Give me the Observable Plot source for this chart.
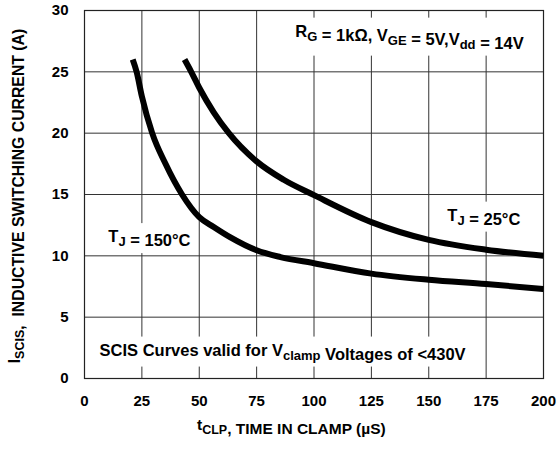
<!DOCTYPE html>
<html>
<head>
<meta charset="utf-8">
<script src="https://cdn.jsdelivr.net/npm/d3@7"></script>
<script src="https://cdn.jsdelivr.net/npm/@observablehq/plot@0.6"></script>
<style>
  html, body { margin: 0; padding: 0; background: #fff; }
  svg text { font-family: "Liberation Sans", Arial, sans-serif; }
</style>
</head>
<body>
<div id="chart"></div>
<script>
// ---- data ----
const t150 = [21, 22.7, 25, 29.5, 35.3, 42.5, 50, 56.3, 63.6, 75, 85.4, 100, 125, 150, 175, 200];
const i150 = [26, 25, 23, 20, 17.5, 15, 13.15, 12.35, 11.5, 10.45, 9.9, 9.4, 8.55, 8.05, 7.7, 7.3];
const t25 = [43.6, 46.5, 50, 56.3, 62.9, 75, 86.8, 100, 125, 150, 175, 200];
const i25 = [26, 25, 23.7, 21.7, 20, 17.7, 16.2, 14.95, 12.75, 11.3, 10.5, 10.0];
const xTicks = [0, 25, 50, 75, 100, 125, 150, 175, 200];
const yTicks = [0, 5, 10, 15, 20, 25, 30];
const annoText = ["R_{G} = 1kΩ, V_{GE} = 5V,V_{dd} = 14V", "T_{J} = 25°C", "T_{J} = 150°C", "SCIS Curves valid for V_{clamp} Voltages of <430V"];
const annoX = [141.6, 174, 28.3, 86.3];
const annoY = [28.3, 13.3, 11.55, 2.3];
const xTitle = "t_{CLP}, TIME IN CLAMP (µS)";
const yTitle = "I_{SCIS},  INDUCTIVE SWITCHING CURRENT (A)";

const s150 = t150.map((t, k) => ({t, i: i150[k]}));
const s25 = t25.map((t, k) => ({t, i: i25[k]}));
const annos = annoText.map((s, k) => ({s, x: annoX[k], y: annoY[k]}));

const W = 558, H = 454;
const chart = Plot.plot({
  width: W, height: H,
  marginLeft: 84, marginRight: 15, marginTop: 10, marginBottom: 76,
  style: {fontFamily: "'Liberation Sans', Arial, sans-serif", fontSize: "15px", fontWeight: "bold", color: "#000", background: "#fff"},
  x: {domain: [0, 200], ticks: xTicks, label: null},
  y: {domain: [0, 30], ticks: yTicks, label: null},
  marks: [
    Plot.gridX(xTicks, {stroke: "#333", strokeOpacity: 1, strokeWidth: 1}),
    Plot.gridY(yTicks, {stroke: "#333", strokeOpacity: 1, strokeWidth: 1}),
    Plot.frame({stroke: "#222", strokeWidth: 1.2}),
    Plot.axisX(xTicks, {tickSize: 0, tickPadding: 17, fontSize: 15, fontWeight: "bold", label: null}),
    Plot.axisY(yTicks, {tickSize: 0, tickPadding: 16, fontSize: 15, fontWeight: "bold", label: null}),
    Plot.text(annos, {x: "x", y: "y", text: "s", textAnchor: "middle", lineAnchor: "middle", fontSize: 16.5, fontWeight: "bold", fill: "#000", className: "anno"}),
    Plot.line(s150, {x: "t", y: "i", stroke: "#000", strokeWidth: 6, curve: "monotone-x", strokeLinecap: "butt"}),
    Plot.line(s25, {x: "t", y: "i", stroke: "#000", strokeWidth: 6, curve: "monotone-x", strokeLinecap: "butt"})
  ]
});
document.getElementById("chart").append(chart);

function rich(el, str, subSize, shift) {
  while (el.firstChild) el.removeChild(el.firstChild);
  const parts = str.split(/_\{([^}]*)\}/);
  parts.forEach((p, k) => {
    if (!p) return;
    const ts = document.createElementNS("http://www.w3.org/2000/svg", "tspan");
    ts.textContent = p;
    if (k % 2 === 1) {
      ts.setAttribute("font-size", subSize);
      ts.setAttribute("dy", shift);
      el.append(ts);
      const back = document.createElementNS("http://www.w3.org/2000/svg", "tspan");
      back.setAttribute("dy", -shift);
      back.textContent = "";
      el.append(back);
    } else {
      el.append(ts);
    }
  });
}

const svg = d3.select(chart.tagName === "svg" ? chart : chart.querySelector("svg"));
svg.selectAll("g.anno text").each(function() {
  rich(this, this.textContent, 13, 4);
});
svg.selectAll("g.anno text").each(function() {
  const b = this.getBBox();
  const pad = 4;
  const r = document.createElementNS("http://www.w3.org/2000/svg", "rect");
  r.setAttribute("x", b.x - pad);
  r.setAttribute("y", b.y - pad);
  r.setAttribute("width", b.width + 2 * pad);
  r.setAttribute("height", b.height + 2 * pad);
  r.setAttribute("fill", "#fff");
  const tr = this.getAttribute("transform");
  if (tr) r.setAttribute("transform", tr);
  this.parentNode.insertBefore(r, this);
});

// axis titles
const xt = svg.append("text")
  .attr("x", 197).attr("y", 430)
  .attr("text-anchor", "start")
  .attr("font-size", 15.5).attr("font-weight", "bold").attr("fill", "#000")
  .node();
rich(xt, xTitle, 12.5, 4);
const yt = svg.append("text")
  .attr("transform", "translate(20,196) rotate(-90)")
  .attr("text-anchor", "middle")
  .attr("font-size", 15.8).attr("font-weight", "bold").attr("fill", "#000")
  .node();
rich(yt, yTitle, 12.5, 4);
</script>
</body>
</html>
